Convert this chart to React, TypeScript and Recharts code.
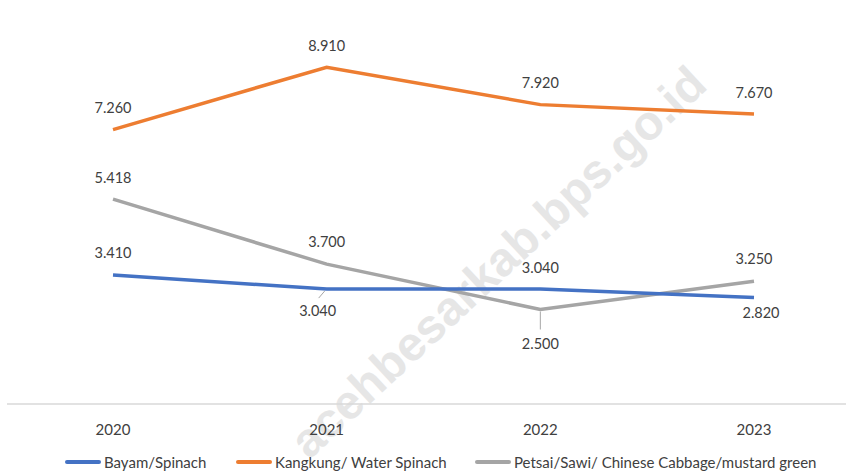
import React from 'react';
import { LineChart, Line, XAxis, YAxis } from 'recharts';

const years = ['2020', '2021', '2022', '2023'];
const bayam = [3.41, 3.04, 3.04, 2.82];
const kangkung = [7.26, 8.91, 7.92, 7.67];
const petsai = [5.418, 3.7, 2.5, 3.25];

const data = years.map((year, i) => ({
  year,
  bayam: bayam[i],
  kangkung: kangkung[i],
  petsai: petsai[i],
}));

const FONT = 'Lato, "Open Sans", sans-serif';
const TEXT = '#404040';

const fmt = (v: number) => v.toFixed(3);

// label offsets per point (Excel custom label positions)
const makeLabel = (offsets: { dx: number; dy: number; leader?: 'diag' | 'down' }[], color = '#a6a6a6') =>
  (props: any) => {
    const { x, y, value, index } = props;
    const o = offsets[index];
    return (
      <g key={`lbl-${index}`}>
        {o.leader === 'diag' && (
          <line x1={x - 2} y1={y + 2} x2={x - 8} y2={y + 9} stroke={color} strokeWidth={1} />
        )}
        {o.leader === 'down' && (
          <line x1={x} y1={y + 2} x2={x} y2={y + 20} stroke={color} strokeWidth={1} />
        )}
        <text
          x={x + o.dx}
          y={y + o.dy}
          textAnchor="middle"
          dominantBaseline="central"
          fontFamily={FONT}
          fontSize={14.5}
          fill={TEXT}
        >
          {fmt(value)}
        </text>
      </g>
    );
  };

const orangeLabel = makeLabel([
  { dx: 0, dy: -22 },
  { dx: 0, dy: -22 },
  { dx: 0, dy: -22 },
  { dx: 0, dy: -22 },
]);
const grayLabel = makeLabel([
  { dx: 0, dy: -22 },
  { dx: 0, dy: -23 },
  { dx: 0, dy: 34, leader: 'down' },
  { dx: 0, dy: -23 },
]);
const blueLabel = makeLabel([
  { dx: 0, dy: -23 },
  { dx: -9, dy: 21, leader: 'diag' },
  { dx: 0, dy: -22 },
  { dx: 7, dy: 15 },
]);

const legendItems = [
  { name: 'Bayam/Spinach', color: '#4472C4', left: 65 },
  { name: 'Kangkung/ Water Spinach', color: '#ED7D31', left: 236 },
  { name: 'Petsai/Sawi/ Chinese Cabbage/mustard green', color: '#A5A5A5', left: 475 },
];

export default function App() {
  return (
    <div
      style={{
        position: 'absolute',
        left: 0,
        top: 0,
        width: 854,
        height: 474,
        overflow: 'hidden',
        background: '#fff',
        fontFamily: FONT,
      }}
    >
      <div
        style={{
          position: 'absolute',
          left: 498,
          top: 262,
          transform: 'translate(-50%, -50%) rotate(-43deg)',
          fontFamily: '"Liberation Sans", Arial, sans-serif',
          fontWeight: 700,
          fontSize: 48,
          color: '#e6e6e6',
          whiteSpace: 'nowrap',
        }}
      >
        acehbesarkab.bps.go.id
      </div>
      <div style={{ position: 'absolute', left: 0, top: 0 }}>
        <LineChart width={846} height={474} data={data} margin={{ top: 26, right: 0, bottom: 0, left: 7 }}>
          <XAxis
            dataKey="year"
            padding={{ left: 106, right: 92 }}
            axisLine={{ stroke: '#d9d9d9', strokeWidth: 1.5 }}
            tickLine={false}
            height={70}
            tickMargin={14}
            tick={{ fontFamily: FONT, fontSize: 15, fill: TEXT }}
          />
          <YAxis hide domain={[0, 10]} />
          <Line
            type="linear"
            dataKey="petsai"
            stroke="#A5A5A5"
            strokeWidth={3.5}
            dot={false}
            isAnimationActive={false}
            label={grayLabel}
          />
          <Line
            type="linear"
            dataKey="bayam"
            stroke="#4472C4"
            strokeWidth={3.5}
            dot={false}
            isAnimationActive={false}
            label={blueLabel}
          />
          <Line
            type="linear"
            dataKey="kangkung"
            stroke="#ED7D31"
            strokeWidth={3.5}
            dot={false}
            isAnimationActive={false}
            label={orangeLabel}
          />
        </LineChart>
      </div>
      {legendItems.map((item) => (
        <div
          key={item.name}
          style={{
            position: 'absolute',
            left: item.left,
            top: 453,
            display: 'flex',
            alignItems: 'center',
            fontSize: 15,
            color: TEXT,
            whiteSpace: 'nowrap',
          }}
        >
          <span
            style={{
              display: 'inline-block',
              width: 36,
              height: 4,
              borderRadius: 2,
              background: item.color,
              marginRight: 3,
            }}
          />
          <span>{item.name}</span>
        </div>
      ))}
    </div>
  );
}
